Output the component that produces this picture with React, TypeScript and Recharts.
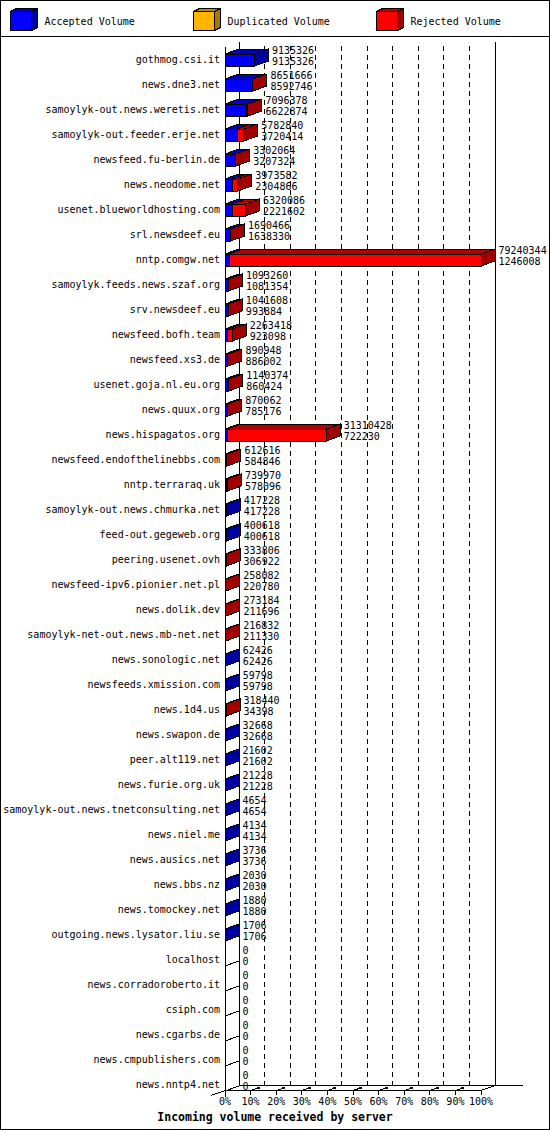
// Volumen entrante por servidor — barras 3D apiladas estilo innreport
import React from "react";
import {
  BarChart, Bar, XAxis, YAxis, CartesianGrid, LabelList, Customized,
} from "recharts";

const servers = [
  "gothmog.csi.it", "news.dne3.net", "samoylyk-out.news.weretis.net",
  "samoylyk-out.feeder.erje.net", "newsfeed.fu-berlin.de", "news.neodome.net",
  "usenet.blueworldhosting.com", "srl.newsdeef.eu", "nntp.comgw.net",
  "samoylyk.feeds.news.szaf.org", "srv.newsdeef.eu", "newsfeed.bofh.team",
  "newsfeed.xs3.de", "usenet.goja.nl.eu.org", "news.quux.org",
  "news.hispagatos.org", "newsfeed.endofthelinebbs.com", "nntp.terraraq.uk",
  "samoylyk-out.news.chmurka.net", "feed-out.gegeweb.org", "peering.usenet.ovh",
  "newsfeed-ipv6.pionier.net.pl", "news.dolik.dev", "samoylyk-net-out.news.mb-net.net",
  "news.sonologic.net", "newsfeeds.xmission.com", "news.1d4.us",
  "news.swapon.de", "peer.alt119.net", "news.furie.org.uk",
  "samoylyk-out.news.tnetconsulting.net", "news.niel.me", "news.ausics.net",
  "news.bbs.nz", "news.tomockey.net", "outgoing.news.lysator.liu.se",
  "localhost", "news.corradoroberto.it", "csiph.com",
  "news.cgarbs.de", "news.cmpublishers.com", "news.nntp4.net",
];

// primera línea de cada etiqueta: volumen total
const totalVolume = [
  9135326, 8651666, 7096378, 5782840, 3302064, 3973582, 6320086, 1690466, 79240344,
  1093260, 1041608, 2263418, 890948, 1140374, 870062, 31310428, 612616, 739970,
  417228, 400618, 333806, 258082, 273184, 216832, 62426, 59798, 318440,
  32668, 21602, 21228, 4654, 4134, 3736, 2030, 1880, 1706,
  0, 0, 0, 0, 0, 0,
];

// segunda línea: volumen aceptado
const acceptedVolume = [
  9135326, 8592746, 6622874, 3720414, 3207324, 2304866, 2221602, 1638330, 1246008,
  1081354, 993884, 923098, 886002, 860424, 785176, 722230, 584846, 578096,
  417228, 400618, 306922, 220780, 211696, 211330, 62426, 59798, 34398,
  32668, 21602, 21228, 4654, 4134, 3736, 2030, 1880, 1706,
  0, 0, 0, 0, 0, 0,
];

const duplicatedVolume = [
  0, 0, 0, 0, 0, 0, 0, 0, 0,
  0, 0, 0, 0, 0, 0, 0, 0, 0,
  0, 0, 0, 0, 0, 0, 0, 0, 0,
  0, 0, 0, 0, 0, 0, 0, 0, 0,
  0, 0, 0, 0, 0, 0,
];

const pctTicks = [0, 10, 20, 30, 40, 50, 60, 70, 80, 90, 100];
const pctLabels = ["0%", "10%", "20%", "30%", "40%", "50%", "60%", "70%", "80%", "90%", "100%"];
const seriesNames = ["Accepted Volume", "Duplicated Volume", "Rejected Volume"];
const chartTitle = "Incoming volume received by server";

const maxVolume = Math.max(...totalVolume);

const rows = servers.map((name, i) => {
  const rejected = totalVolume[i] - acceptedVolume[i] - duplicatedVolume[i];
  return {
    name,
    total: totalVolume[i],
    accepted: acceptedVolume[i],
    acc: (acceptedVolume[i] / maxVolume) * 100,
    dup: (duplicatedVolume[i] / maxVolume) * 100,
    rej: (rejected / maxVolume) * 100,
  };
});

// geometría
const W = 550;
const H = 1130;
const LEFT = 225;
const TOP = 47;
const ROW = 25;
const PLOT_W = 256;
const AXIS_W = 215;
const X_AXIS_H = 30;
const DX = 14;
const DY = -5;
const FLOOR = TOP + ROW * servers.length - 6.5;
const WALL_TOP = 42;
const MONO = "'DejaVu Sans Mono', monospace";

const KEYS = ["acc", "dup", "rej"] as const;
const COLORS: Record<string, { front: string; top: string; side: string }> = {
  acc: { front: "#0000ff", top: "#0000b4", side: "#0000a0" },
  dup: { front: "#ffb400", top: "#c08800", side: "#a87800" },
  rej: { front: "#ff0000", top: "#b40000", side: "#a00000" },
};

const xPos = (xAxis: any, t: number) =>
  typeof xAxis?.scale === "function" ? xAxis.scale(t) : LEFT + (t / 100) * PLOT_W;

function Block(props: any) {
  const { x, y, width, height, payload, k } = props;
  if (!(width > 0)) return null;
  const c = COLORS[k];
  const idx = KEYS.indexOf(k);
  const isLast = KEYS.slice(idx + 1).every((n) => !(payload?.[n] > 0));
  const r = x + width;
  return (
    <g stroke="#000" strokeWidth={1}>
      <polygon points={`${x},${y} ${x + DX},${y + DY} ${r + DX},${y + DY} ${r},${y}`} fill={c.top} />
      {isLast && (
        <polygon
          points={`${r},${y} ${r + DX},${y + DY} ${r + DX},${y + height + DY} ${r},${y + height}`}
          fill={c.side}
        />
      )}
      <rect x={x} y={y} width={width} height={height} fill={c.front} />
    </g>
  );
}

// diagonal de la pared izquierda, debajo de cada barra
function WallRow(props: any) {
  const { x, y, height } = props;
  const b = y + height;
  return <line x1={x} y1={b} x2={x + DX} y2={b + DY} stroke="#000" />;
}

const NumLabel = (dy: number) => (props: any) => {
  const vb = props.viewBox ?? props;
  const x = vb.x + vb.width + DX + 3.5;
  const y = vb.y + vb.height / 2 + dy;
  return (
    <text x={x} y={y} dy="0.35em" fontFamily={MONO} fontSize={10} fill="#000">
      {props.value}
    </text>
  );
};

function WallTick({ x, y, payload }: any) {
  return (
    <text x={x} y={y - 0.5} dy="0.35em" textAnchor="end" fontFamily={MONO} fontSize={10} fill="#000">
      {payload.value}
    </text>
  );
}

function FloorTick({ x, y, payload }: any) {
  const i = pctTicks.indexOf(payload.value);
  const inner = i > 0 && i < pctTicks.length - 1;
  return (
    <g>
      <line x1={x} y1={FLOOR} x2={x} y2={FLOOR + 4.5} stroke="#000" />
      {inner && (
        <g>
          <line x1={x} y1={FLOOR} x2={x + 6} y2={FLOOR - 2} stroke="#000" />
          <rect x={x + 6} y={FLOOR - 4} width={3} height={2} fill="#000" />
        </g>
      )}
      <text x={x} y={y + 4} dy="0.35em" textAnchor="middle" fontFamily={MONO} fontSize={10} fill="#000">
        {pctLabels[i]}
      </text>
    </g>
  );
}

function Frame() {
  const backY = FLOOR + DY;
  return (
    <g>
      <g stroke="#000" fill="none">
        <line x1={LEFT + DX} y1={backY} x2={W - 27} y2={backY} />
        <polyline
          points={`${LEFT - DX},${FLOOR - DY} ${LEFT},${FLOOR} ${LEFT + PLOT_W},${FLOOR} ${LEFT + PLOT_W + DX},${backY}`}
        />
      </g>
      <text
        x={W / 2} y={1117} dy="0.35em" textAnchor="middle"
        fontFamily={MONO} fontSize={11.5} fontWeight="bold" fill="#000"
      >
        {chartTitle}
      </text>
    </g>
  );
}

function Legend3D() {
  const xs = [10.5, 193.5, 376.5];
  return (
    <svg width={W} height={37} style={{ position: "absolute", left: 0, top: 0 }}>
      {seriesNames.map((name, i) => {
        const c = COLORS[KEYS[i]];
        const x = xs[i];
        const y = 11.5;
        const w = 21;
        const h = 19;
        const dx = 6;
        const dy = -3;
        return (
          <g key={name} stroke="#000">
            <polygon points={`${x},${y} ${x + dx},${y + dy} ${x + w + dx},${y + dy} ${x + w},${y}`} fill={c.top} />
            <polygon points={`${x + w},${y} ${x + w + dx},${y + dy} ${x + w + dx},${y + h + dy} ${x + w},${y + h}`} fill={c.side} />
            <rect x={x} y={y} width={w} height={h} fill={c.front} />
            <text x={x + 34} y={21} dy="0.35em" stroke="none" fontFamily={MONO} fontSize={10} fill="#000">
              {name}
            </text>
          </g>
        );
      })}
      <line x1={0} y1={36.5} x2={W} y2={36.5} stroke="#000" />
    </svg>
  );
}

export default function App() {
  return (
    <div style={{ position: "relative", width: W, height: H, background: "#fff" }}>
      <style>{"body{margin:0} svg{shape-rendering:crispEdges}"}</style>
      <div style={{ position: "absolute", left: 0, top: 0 }}>
        <BarChart
          width={W}
          height={H}
          data={rows}
          layout="vertical"
          barSize={12}
          margin={{
            top: TOP,
            left: LEFT - AXIS_W,
            right: W - LEFT - PLOT_W,
            bottom: H - TOP - ROW * servers.length - X_AXIS_H,
          }}
        >
          <Customized component={<Frame />} />
          <CartesianGrid
            horizontal={false}
            stroke="#000"
            strokeDasharray="5 4"
            y={WALL_TOP + 4}
            height={FLOOR + DY - WALL_TOP - 4}
            verticalCoordinatesGenerator={({ xAxis }: any) =>
              pctTicks.slice(1, -1).map((t) => xPos(xAxis, t) + DX)
            }
          />
          <CartesianGrid
            horizontal={false}
            stroke="#000"
            y={WALL_TOP}
            height={FLOOR + DY - WALL_TOP}
            verticalCoordinatesGenerator={({ xAxis }: any) => [
              xPos(xAxis, pctTicks[0]) + DX,
              xPos(xAxis, pctTicks[pctTicks.length - 1]) + DX,
            ]}
          />
          <XAxis
            type="number"
            domain={[0, 100]}
            ticks={pctTicks}
            interval={0}
            height={X_AXIS_H}
            axisLine={false}
            tickLine={false}
            tickSize={0}
            tickMargin={0}
            tick={<FloorTick />}
          />
          <YAxis
            type="category"
            dataKey="name"
            width={AXIS_W}
            interval={0}
            tickSize={0}
            tickMargin={5}
            tickLine={false}
            axisLine={{ stroke: "#000" }}
            tick={<WallTick />}
          />
          <Bar dataKey="acc" stackId="v" name={seriesNames[0]} isAnimationActive={false}
            background={<WallRow />}
            shape={(p: any) => <Block {...p} k="acc" />} />
          <Bar dataKey="dup" stackId="v" name={seriesNames[1]} isAnimationActive={false}
            shape={(p: any) => <Block {...p} k="dup" />} />
          <Bar dataKey="rej" stackId="v" name={seriesNames[2]} isAnimationActive={false}
            shape={(p: any) => <Block {...p} k="rej" />}>
            <LabelList dataKey="total" content={NumLabel(-9.5)} />
            <LabelList dataKey="accepted" content={NumLabel(1)} />
          </Bar>
        </BarChart>
      </div>
      <Legend3D />
      <div style={{ position: "absolute", inset: 0, border: "1px solid #000", boxSizing: "border-box", pointerEvents: "none" }} />
    </div>
  );
}
